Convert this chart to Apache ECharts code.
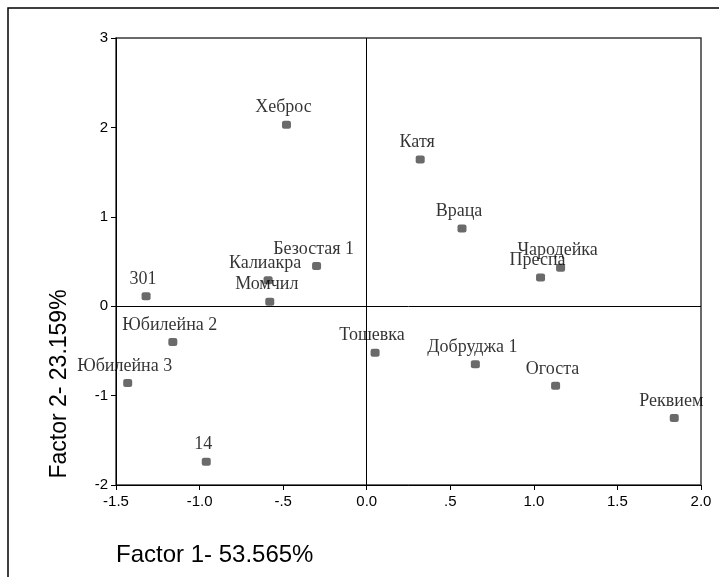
<!DOCTYPE html>
<html>
<head>
<meta charset="utf-8">
<script src="https://cdn.jsdelivr.net/npm/echarts@6/dist/echarts.min.js"></script>
<style>
html,body{margin:0;padding:0;background:#fff;}
#chart{width:719px;height:577px;}
</style>
</head>
<body>
<div id="chart"></div>
<script>
// Data
var varieties = ['Хеброс','Катя','Враца','Безостая 1','Калиакра','Момчил','301','Чародейка','Преспа','Юбилейна 2','Тошевка','Добруджа 1','Огоста','Юбилейна 3','Реквием','14'];
var factor1 = [-0.48, 0.32, 0.57, -0.30, -0.59, -0.58, -1.32, 1.16, 1.04, -1.16, 0.05, 0.65, 1.13, -1.43, 1.84, -0.96];
var factor2 = [2.03, 1.64, 0.87, 0.45, 0.29, 0.05, 0.11, 0.43, 0.32, -0.40, -0.52, -0.65, -0.89, -0.86, -1.25, -1.74];
var xTickLabels = ['-1.5','-1.0','-.5','0.0','.5','1.0','1.5','2.0'];
var yTickLabels = ['-2','-1','0','1','2','3'];
var xTitle = 'Factor 1- 53.565%';
var yTitle = 'Factor 2- 23.159%';

var points = varieties.map(function (n, i) { return [factor1[i], factor2[i], n]; });

var chart = echarts.init(document.getElementById('chart'), null, {renderer: 'canvas'});
chart.setOption({
  animation: false,
  backgroundColor: '#fff',
  grid: {left: 116, right: 18, top: 38, bottom: 92, show: true, borderColor: '#3a3a3a', borderWidth: 1.5, backgroundColor: 'transparent'},
  xAxis: {
    type: 'value', min: -1.5, max: 2.0, interval: 0.5,
    axisLine: {show: true, onZero: false, lineStyle: {color: '#000', width: 1}},
    axisTick: {show: true, inside: false, length: 5, lineStyle: {color: '#000'}},
    splitLine: {show: false},
    axisLabel: {
      color: '#000', fontFamily: 'Liberation Sans', fontSize: 15, margin: 9,
      formatter: function (v) { var i = Math.round((v + 1.5) / 0.5); return xTickLabels[i]; }
    }
  },
  yAxis: {
    type: 'value', min: -2, max: 3, interval: 1,
    axisLine: {show: true, onZero: false, lineStyle: {color: '#000', width: 1}},
    axisTick: {show: true, inside: false, length: 5, lineStyle: {color: '#000'}},
    splitLine: {show: false},
    axisLabel: {
      color: '#000', fontFamily: 'Liberation Sans', fontSize: 15, margin: 8,
      formatter: function (v) { var i = Math.round(v + 2); return yTickLabels[i]; }
    }
  },
  graphic: [
    {type: 'rect', shape: {x: 8, y: 8, width: 900, height: 800}, style: {fill: 'none', stroke: '#000', lineWidth: 1.5}, silent: true, z: -1},
    {type: 'text', x: 116, y: 555, style: {text: xTitle, font: '24px "Liberation Sans"', fill: '#000', textAlign: 'left', textVerticalAlign: 'middle'}},
    {type: 'text', x: 60, y: 384, rotation: Math.PI / 2, style: {text: yTitle, font: '23px "Liberation Sans"', fill: '#000', textAlign: 'center', textVerticalAlign: 'middle'}}
  ],
  series: [{
    type: 'scatter',
    data: points,
    symbol: 'roundRect',
    symbolSize: [9, 8],
    itemStyle: {color: '#454545'},
    label: {
      show: true, position: 'top', distance: 4, offset: [-3, 0],
      formatter: function (p) { return p.data[2]; },
      fontFamily: 'Liberation Serif', fontSize: 18, lineHeight: 18, color: '#000'
    },
    markLine: {
      silent: true, symbol: 'none', animation: false,
      label: {show: false},
      lineStyle: {color: '#000', width: 1, type: 'solid'},
      data: [{xAxis: 0}, {yAxis: 0}]
    }
  }]
});
</script>
</body>
</html>
